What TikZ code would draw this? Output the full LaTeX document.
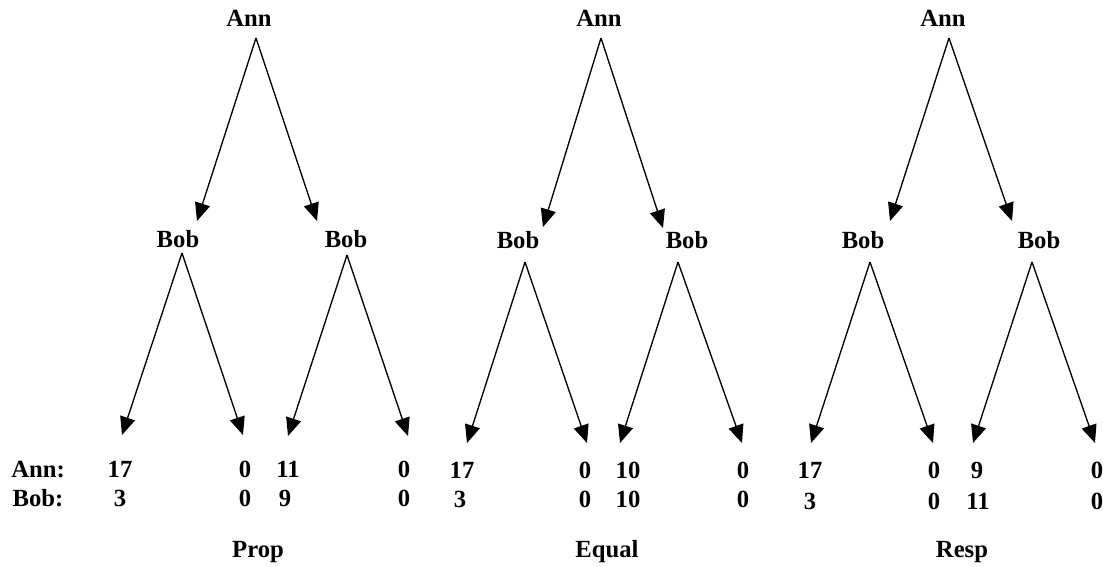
\documentclass[tikz,border=0pt]{standalone}
\usepackage{fontspec}
\setmainfont{Liberation Serif}
\usetikzlibrary{arrows.meta}
\tikzset{
  lbl/.style={font=\bfseries\fontsize{18.5}{20}\selectfont, inner sep=0pt, anchor=base},
  conn/.style={line width=1pt, -{Triangle[length=13.5pt,width=11.5pt]}}
}
\begin{document}
\begin{tikzpicture}[x=0.75pt,y=-0.75pt]
\useasboundingbox (0,0) rectangle (1103,567);
% side labels
\node[lbl] (annlab) at (38,477) {Ann:};
\node[lbl] (boblab) at (38,506) {Bob:};
% ---------- Tree 1: Prop ----------
\node[lbl] (a1) at (249,27) {Ann};
\node[lbl] (b1l) at (178,247) {Bob};
\node[lbl] (b1r) at (346,247) {Bob};
\coordinate (a1s) at (256,38);
\coordinate (b1lt) at (197,221);
\coordinate (b1rt) at (317,221);
\coordinate (b1ls) at (182,253);
\coordinate (b1rs) at (347,255);
\coordinate (l11) at (122,435);
\coordinate (l12) at (243,435);
\coordinate (l13) at (288,436);
\coordinate (l14) at (408,436);
\draw[conn] (a1s) -- (b1lt);
\draw[conn] (a1s) -- (b1rt);
\draw[conn] (b1ls) -- (l11);
\draw[conn] (b1ls) -- (l12);
\draw[conn] (b1rs) -- (l13);
\draw[conn] (b1rs) -- (l14);
\node[lbl] (p11a) at (120,477) {17};
\node[lbl] (p11b) at (120,506) {3};
\node[lbl] (p12a) at (245,477) {0};
\node[lbl] (p12b) at (245,506) {0};
\node[lbl] (p13a) at (288,477) {11};
\node[lbl] (p13b) at (285,506) {9};
\node[lbl] (p14a) at (404,477) {0};
\node[lbl] (p14b) at (404,506) {0};
\node[lbl] (t1) at (258,557) {Prop};
% ---------- Tree 2: Equal ----------
\node[lbl] (a2) at (599,27) {Ann};
\node[lbl] (b2l) at (518,248) {Bob};
\node[lbl] (b2r) at (687,248) {Bob};
\coordinate (a2s) at (601,38);
\coordinate (b2lt) at (543,227);
\coordinate (b2rt) at (663,228);
\coordinate (b2ls) at (525,262);
\coordinate (b2rs) at (678,262);
\coordinate (l21) at (467,443);
\coordinate (l22) at (587,443);
\coordinate (l23) at (620,443);
\coordinate (l24) at (742,443);
\draw[conn] (a2s) -- (b2lt);
\draw[conn] (a2s) -- (b2rt);
\draw[conn] (b2ls) -- (l21);
\draw[conn] (b2ls) -- (l22);
\draw[conn] (b2rs) -- (l23);
\draw[conn] (b2rs) -- (l24);
\node[lbl] (p21a) at (462,478) {17};
\node[lbl] (p21b) at (460,507) {3};
\node[lbl] (p22a) at (585,478) {0};
\node[lbl] (p22b) at (585,507) {0};
\node[lbl] (p23a) at (628,478) {10};
\node[lbl] (p23b) at (628,507) {10};
\node[lbl] (p24a) at (743,478) {0};
\node[lbl] (p24b) at (743,507) {0};
\node[lbl] (t2) at (607,557) {Equal};
% ---------- Tree 3: Resp ----------
\node[lbl] (a3) at (943,27) {Ann};
\node[lbl] (b3l) at (863,248) {Bob};
\node[lbl] (b3r) at (1039,248) {Bob};
\coordinate (a3s) at (949,38);
\coordinate (b3lt) at (890,221);
\coordinate (b3rt) at (1012,221);
\coordinate (b3ls) at (870,262);
\coordinate (b3rs) at (1032,262);
\coordinate (l31) at (811,443);
\coordinate (l32) at (933,443);
\coordinate (l33) at (973,443);
\coordinate (l34) at (1095,443);
\draw[conn] (a3s) -- (b3lt);
\draw[conn] (a3s) -- (b3rt);
\draw[conn] (b3ls) -- (l31);
\draw[conn] (b3ls) -- (l32);
\draw[conn] (b3rs) -- (l33);
\draw[conn] (b3rs) -- (l34);
\node[lbl] (p31a) at (810,478) {17};
\node[lbl] (p31b) at (810,509) {3};
\node[lbl] (p32a) at (934,478) {0};
\node[lbl] (p32b) at (934,509) {0};
\node[lbl] (p33a) at (977,478) {9};
\node[lbl] (p33b) at (978,509) {11};
\node[lbl] (p34a) at (1097,478) {0};
\node[lbl] (p34b) at (1097,509) {0};
\node[lbl] (t3) at (962,557) {Resp};
\end{tikzpicture}
\end{document}
